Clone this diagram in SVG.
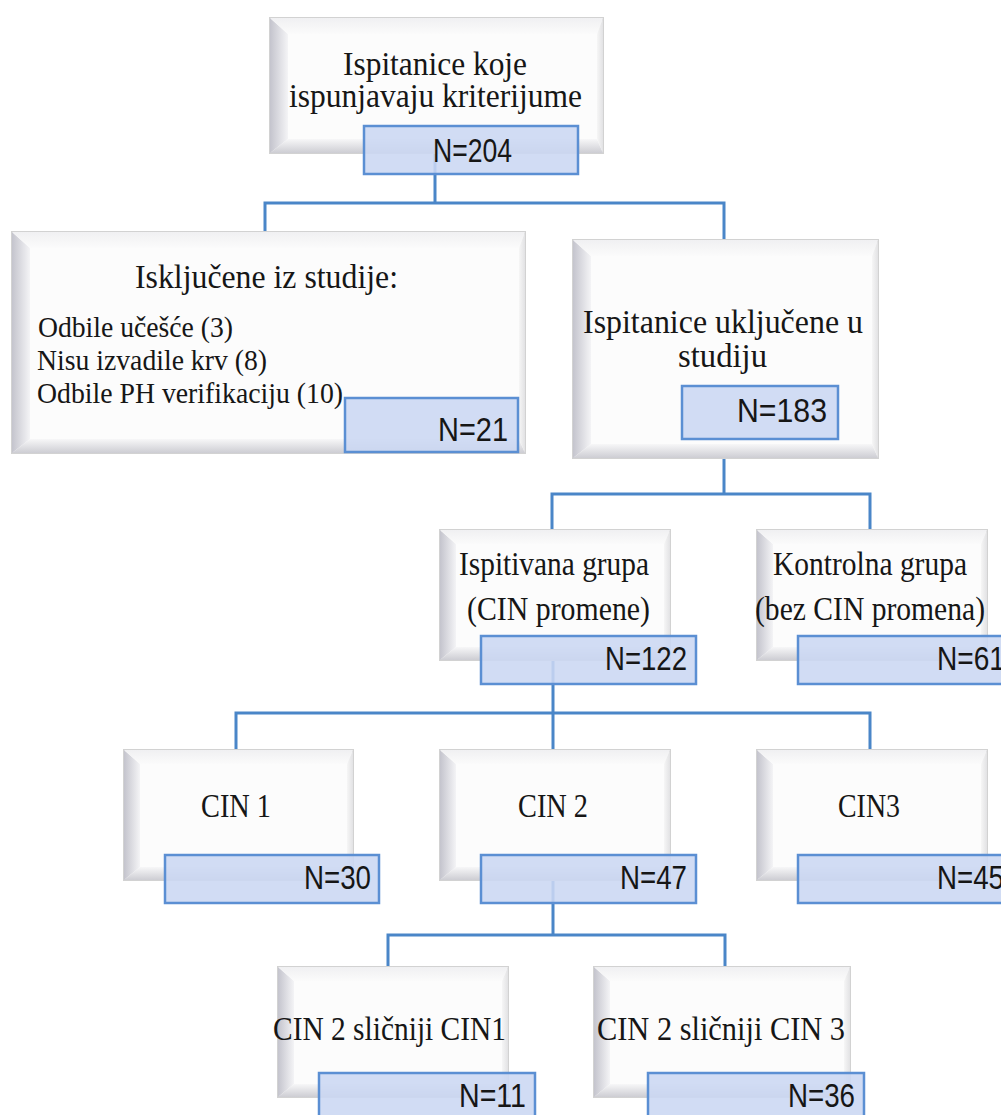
<svg xmlns="http://www.w3.org/2000/svg" width="1001" height="1115" viewBox="0 0 1001 1115">
<defs>
<linearGradient id="gl" x1="0" y1="0" x2="1" y2="0"><stop offset="0" stop-color="#c4c4cd"/><stop offset="1" stop-color="#f4f4f6"/></linearGradient>
<linearGradient id="gb" x1="0" y1="1" x2="0" y2="0"><stop offset="0" stop-color="#cdcdd3"/><stop offset="1" stop-color="#f7f7f8"/></linearGradient>
<linearGradient id="gt" x1="0" y1="0" x2="0" y2="1"><stop offset="0" stop-color="#f0f0f2"/><stop offset="1" stop-color="#fbfbfb"/></linearGradient>
<linearGradient id="gr" x1="1" y1="0" x2="0" y2="0"><stop offset="0" stop-color="#e2e2e4"/><stop offset="1" stop-color="#f6f6f6"/></linearGradient>
<style>
.box{fill:#fcfcfc;stroke:#d2d2d2;stroke-width:2}
.bl{fill:url(#gl)}
.bb{fill:url(#gb)}
.bt{fill:url(#gt)}
.br{fill:url(#gr)}
.nb{fill:#cbd7f3;fill-opacity:0.88;stroke:#5b8fd3;stroke-width:2.5}
.t{font-family:"Liberation Serif","Times New Roman",serif;font-size:34px;fill:#161616}
.ts{font-family:"Liberation Serif","Times New Roman",serif;font-size:30px;fill:#161616}
.n{font-family:"Liberation Sans",Arial,sans-serif;font-size:33px;fill:#161616}
.c{fill:none;stroke:#4a86c8;stroke-width:3}
</style>
</defs>
<rect width="1001" height="1115" fill="#ffffff"/>
<g id="connectors">
<path class="c" d="M435,153 V203 M265,232 V203 H724 V240"/>
<path class="c" d="M724,458 V494 M552,530 V494 H870 V530"/>
<path class="c" d="M553,660 V713 M236,750 V713 H870 V750 M553,713 V750"/>
<path class="c" d="M553,880 V935 M388,967 V935 H725 V967"/>
</g>
<g id="node-ispunjavaju">
<rect class="box" x="270" y="18" width="333" height="135"/>
<polygon class="bl" points="270,18 288,34 288,139 270,153"/>
<polygon class="bb" points="270,153 288,139 597,139 603,153"/>
<polygon class="bt" points="270,18 603,18 597,34 288,34"/>
<polygon class="br" points="603,18 603,153 597,139 597,34"/>
<text class="t" x="343" y="75" font-size="37" textLength="184" lengthAdjust="spacingAndGlyphs">Ispitanice koje</text>
<text class="t" x="289" y="107" font-size="37" textLength="293" lengthAdjust="spacingAndGlyphs">ispunjavaju kriterijume</text>
<rect class="nb" x="364" y="126" width="214" height="48"/>
<text class="n" x="433" y="162" textLength="79" lengthAdjust="spacingAndGlyphs">N=204</text>
</g>
<g id="node-iskljucene">
<rect class="box" x="12" y="232" width="513" height="221"/>
<polygon class="bl" points="12,232 30,248 30,439 12,453"/>
<polygon class="bb" points="12,453 30,439 519,439 525,453"/>
<polygon class="bt" points="12,232 525,232 519,248 30,248"/>
<polygon class="br" points="525,232 525,453 519,439 519,248"/>
<text class="t" x="135" y="288" textLength="263" lengthAdjust="spacingAndGlyphs">Isključene iz studije:</text>
<text class="ts" x="38" y="337" textLength="195" lengthAdjust="spacingAndGlyphs">Odbile učešće (3)</text>
<text class="ts" x="37" y="370" textLength="230" lengthAdjust="spacingAndGlyphs">Nisu izvadile krv (8)</text>
<text class="ts" x="37" y="403" textLength="306" lengthAdjust="spacingAndGlyphs">Odbile PH verifikaciju (10)</text>
<rect class="nb" x="345" y="398" width="173" height="54"/>
<text class="n" x="438" y="441" textLength="70" lengthAdjust="spacingAndGlyphs">N=21</text>
</g>
<g id="node-ukljucene">
<rect class="box" x="573" y="240" width="305" height="218"/>
<polygon class="bl" points="573,240 591,256 591,444 573,458"/>
<polygon class="bb" points="573,458 591,444 872,444 878,458"/>
<polygon class="bt" points="573,240 878,240 872,256 591,256"/>
<polygon class="br" points="878,240 878,458 872,444 872,256"/>
<text class="t" x="583" y="333" textLength="280" lengthAdjust="spacingAndGlyphs">Ispitanice uključene u</text>
<text class="t" x="678" y="367" textLength="89" lengthAdjust="spacingAndGlyphs">studiju</text>
<rect class="nb" x="682" y="386" width="156" height="53"/>
<text class="n" x="737" y="422" textLength="90" lengthAdjust="spacingAndGlyphs">N=183</text>
</g>
<g id="node-ispitivana">
<rect class="box" x="440" y="530" width="230" height="130"/>
<polygon class="bl" points="440,530 456,544 456,647 440,660"/>
<polygon class="bb" points="440,660 456,647 664,647 670,660"/>
<polygon class="bt" points="440,530 670,530 664,544 456,544"/>
<polygon class="br" points="670,530 670,660 664,647 664,544"/>
<text class="t" x="459" y="575" textLength="190" lengthAdjust="spacingAndGlyphs">Ispitivana grupa</text>
<text class="t" x="467" y="620" textLength="183" lengthAdjust="spacingAndGlyphs">(CIN promene)</text>
<rect class="nb" x="481" y="636" width="215" height="48"/>
<text class="n" x="605" y="670" textLength="82" lengthAdjust="spacingAndGlyphs">N=122</text>
</g>
<g id="node-kontrolna">
<rect class="box" x="757" y="530" width="230" height="130"/>
<polygon class="bl" points="757,530 773,544 773,647 757,660"/>
<polygon class="bb" points="757,660 773,647 981,647 987,660"/>
<polygon class="bt" points="757,530 987,530 981,544 773,544"/>
<polygon class="br" points="987,530 987,660 981,647 981,544"/>
<text class="t" x="773" y="575" textLength="194" lengthAdjust="spacingAndGlyphs">Kontrolna grupa</text>
<text class="t" x="755" y="620" textLength="230" lengthAdjust="spacingAndGlyphs">(bez CIN promena)</text>
<rect class="nb" x="798" y="636" width="215" height="48"/>
<text class="n" x="937" y="670" textLength="68" lengthAdjust="spacingAndGlyphs">N=61</text>
</g>
<g id="node-cin1">
<rect class="box" x="124" y="750" width="229" height="130"/>
<polygon class="bl" points="124,750 140,764 140,867 124,880"/>
<polygon class="bb" points="124,880 140,867 347,867 353,880"/>
<polygon class="bt" points="124,750 353,750 347,764 140,764"/>
<polygon class="br" points="353,750 353,880 347,867 347,764"/>
<text class="t" x="201" y="817" textLength="70" lengthAdjust="spacingAndGlyphs">CIN 1</text>
<rect class="nb" x="165" y="855" width="214" height="48"/>
<text class="n" x="304" y="889" textLength="67" lengthAdjust="spacingAndGlyphs">N=30</text>
</g>
<g id="node-cin2">
<rect class="box" x="440" y="750" width="230" height="130"/>
<polygon class="bl" points="440,750 456,764 456,867 440,880"/>
<polygon class="bb" points="440,880 456,867 664,867 670,880"/>
<polygon class="bt" points="440,750 670,750 664,764 456,764"/>
<polygon class="br" points="670,750 670,880 664,867 664,764"/>
<text class="t" x="518" y="817" textLength="70" lengthAdjust="spacingAndGlyphs">CIN 2</text>
<rect class="nb" x="481" y="855" width="215" height="48"/>
<text class="n" x="620" y="889" textLength="67" lengthAdjust="spacingAndGlyphs">N=47</text>
</g>
<g id="node-cin3">
<rect class="box" x="757" y="750" width="230" height="130"/>
<polygon class="bl" points="757,750 773,764 773,867 757,880"/>
<polygon class="bb" points="757,880 773,867 981,867 987,880"/>
<polygon class="bt" points="757,750 987,750 981,764 773,764"/>
<polygon class="br" points="987,750 987,880 981,867 981,764"/>
<text class="t" x="838" y="817" textLength="62" lengthAdjust="spacingAndGlyphs">CIN3</text>
<rect class="nb" x="798" y="855" width="215" height="48"/>
<text class="n" x="937" y="889" textLength="67" lengthAdjust="spacingAndGlyphs">N=45</text>
</g>
<g id="node-slicniji-cin1">
<rect class="box" x="278" y="967" width="230" height="130"/>
<polygon class="bl" points="278,967 294,981 294,1084 278,1097"/>
<polygon class="bb" points="278,1097 294,1084 502,1084 508,1097"/>
<polygon class="bt" points="278,967 508,967 502,981 294,981"/>
<polygon class="br" points="508,967 508,1097 502,1084 502,981"/>
<text class="t" x="273" y="1040" textLength="233" lengthAdjust="spacingAndGlyphs">CIN 2 sličniji CIN1</text>
<rect class="nb" x="319" y="1073" width="216" height="48"/>
<text class="n" x="459" y="1107" textLength="67" lengthAdjust="spacingAndGlyphs">N=11</text>
</g>
<g id="node-slicniji-cin3">
<rect class="box" x="594" y="967" width="256" height="130"/>
<polygon class="bl" points="594,967 610,981 610,1084 594,1097"/>
<polygon class="bb" points="594,1097 610,1084 844,1084 850,1097"/>
<polygon class="bt" points="594,967 850,967 844,981 610,981"/>
<polygon class="br" points="850,967 850,1097 844,1084 844,981"/>
<text class="t" x="597" y="1040" textLength="248" lengthAdjust="spacingAndGlyphs">CIN 2 sličniji CIN 3</text>
<rect class="nb" x="648" y="1073" width="216" height="48"/>
<text class="n" x="788" y="1107" textLength="67" lengthAdjust="spacingAndGlyphs">N=36</text>
</g>
</svg>
